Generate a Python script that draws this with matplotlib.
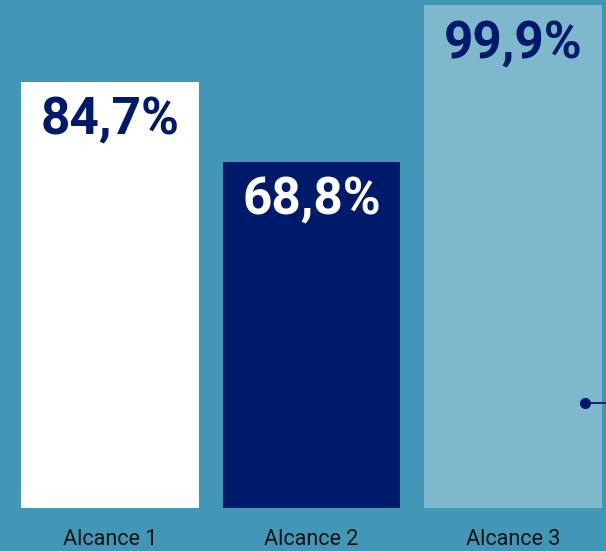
import matplotlib.pyplot as plt

categorias = ["Alcance 1", "Alcance 2", "Alcance 3"]
valores = [84.7, 68.8, 99.9]
etiquetas = ["84,7%", "68,8%", "99,9%"]

fondo = "#4197B5"
colores = ["#FFFFFF", "#001A6B", "#7FB8CC"]
colores_texto = ["#001A6B", "#FFFFFF", "#001A6B"]

fig = plt.figure(figsize=(6.06, 5.51), dpi=100)
fig.patch.set_facecolor(fondo)
ax = fig.add_axes([0, 0.078, 1, 0.913])
ax.set_facecolor(fondo)

x = range(len(categorias))
ax.bar(x, valores, width=0.883, color=colores)

for i, v in enumerate(valores):
    ax.text(i, v - 10.5, etiquetas[i], ha="center", va="baseline",
            fontsize=37, fontweight="bold", family="Roboto",
            color=colores_texto[i])

# marcador de la línea guía que sale por la derecha
ax.plot([2.357, 2.6], [20.9, 20.9], color="#001A6B", lw=1.3, clip_on=True)
ax.plot([2.357], [20.9], "o", color="#001A6B", markersize=7)

ax.set_xlim(-0.546, 2.462)
ax.set_ylim(0, 100)
ax.set_xticks(list(x))
ax.set_xticklabels(categorias, fontsize=15.5, family="Roboto", color="#111111")
ax.tick_params(axis="x", length=0, pad=15)
ax.set_yticks([])
for s in ax.spines.values():
    s.set_visible(False)

fig.savefig("out.png", dpi=100, facecolor=fondo)
